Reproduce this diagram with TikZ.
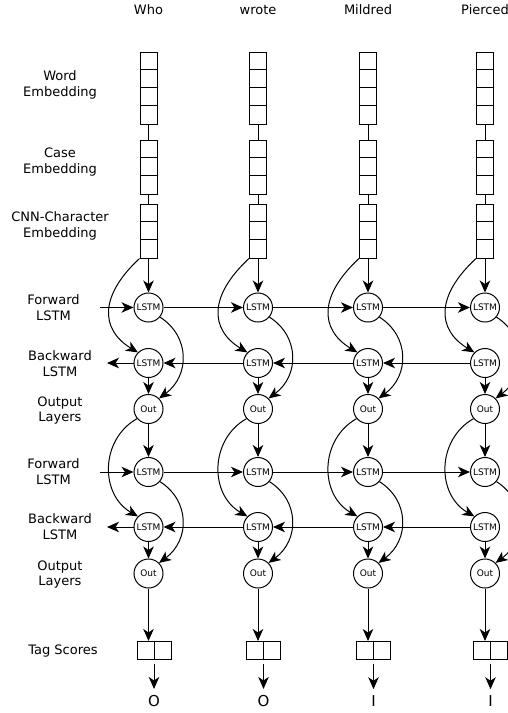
\documentclass[tikz,border=0pt]{standalone}
\usepackage{fontspec}
\setmainfont{DejaVu Sans}
\usetikzlibrary{arrows.meta}
\begin{document}
\begin{tikzpicture}[x=1pt,y=-1pt,
  line width=1pt,
  arr/.style={-{Stealth[length=12pt,width=10.5pt,inset=3.5pt]}},
  lab/.style={align=center,font=\fontsize{13}{15.5}\selectfont},
  cell/.style={draw,minimum width=17pt,inner sep=0pt},
  unit/.style={draw,circle,minimum size=29pt,inner sep=0pt,font=\fontsize{9}{10}\selectfont},
  outlab/.style={font=\fontsize{15}{17}\selectfont}]
\useasboundingbox (0,0) rectangle (508,713);
\clip (0,0) rectangle (508,713);
% left labels
\node[lab] (lw) at (60,85) {Word\\Embedding};
\node[lab] (lc) at (60,162) {Case\\Embedding};
\node[lab] (ln) at (60,226) {CNN-Character\\Embedding};
\node[lab] (lf1) at (53.5,307.5) {Forward\\LSTM};
\node[lab] (lb1) at (60,363.5) {Backward\\LSTM};
\node[lab] (lo1) at (60,410.5) {Output\\Layers};
\node[lab] (lf2) at (53.5,471.5) {Forward\\LSTM};
\node[lab] (lb2) at (60,526.5) {Backward\\LSTM};
\node[lab] (lo2) at (60,574.5) {Output\\Layers};
\node[lab] (lt) at (63,651) {Tag Scores};
\coordinate (fin1) at (100,307.5);
\coordinate (fin2) at (100,472);
\coordinate (bout1) at (107,363);
\coordinate (bout2) at (107,527);
\foreach \i/\x/\w/\t in {1/148.5/Who/O,2/258/wrote/O,3/368/Mildred/I,4/485/Pierced/I}{
  \node[lab] (word\i) at (\x,10) {\w};
  % embeddings
  \node[cell,minimum height=72pt] (we\i) at (\x,88) {};
  \foreach \k in {1,2,3} \draw ([yshift=-18*\k pt]we\i.north west) -- ([yshift=-18*\k pt]we\i.north east);
  \node[cell,minimum height=54pt] (ce\i) at (\x,167) {};
  \foreach \k in {1,2} \draw ([yshift=-18*\k pt]ce\i.north west) -- ([yshift=-18*\k pt]ce\i.north east);
  \node[cell,minimum height=54pt] (ne\i) at (\x,231) {};
  \foreach \k in {1,2} \draw ([yshift=-18*\k pt]ne\i.north west) -- ([yshift=-18*\k pt]ne\i.north east);
  \draw (we\i.south) -- (ce\i.north);
  \draw (ce\i.south) -- (ne\i.north);
  % units
  \node[unit] (f1\i) at (\x,307.5) {LSTM};
  \node[unit] (b1\i) at (\x,363) {LSTM};
  \node[unit] (o1\i) at (\x,409) {Out};
  \node[unit] (f2\i) at (\x,472) {LSTM};
  \node[unit] (b2\i) at (\x,527) {LSTM};
  \node[unit] (o2\i) at (\x,573.5) {Out};
  % tag scores
  \node[draw,minimum width=34pt,minimum height=18pt,inner sep=0pt] (ts\i) at (\x+5.5,650) {};
  \draw (ts\i.north) -- (ts\i.south);
  \coordinate (tin\i) at (\x,641);
  \node[outlab] (tag\i) at (\x+5.5,701.5) {\t};
  % vertical arrows
  \draw[arr] (ne\i.south) -- (f1\i.north);
  \draw[arr] (b1\i.south) -- (o1\i.north);
  \draw[arr] (o1\i.south) -- (f2\i.north);
  \draw[arr] (b2\i.south) -- (o2\i.north);
  \draw[arr] (o2\i.south) -- (tin\i);
  \draw[arr,shorten <=4pt] (ts\i.south) -- ([yshift=3pt]tag\i.north);
  % curves
  \draw[arr] (ne\i.south west) .. controls +(-40,37) and +(-38,-23) .. (b1\i.135);
  \draw[arr] (f1\i.-40) .. controls +(30,19) and +(31,-23) .. (o1\i.45);
  \draw[arr] (o1\i.220) .. controls +(-37,21) and +(-38,-22) .. (b2\i.135);
  \draw[arr] (f2\i.-40) .. controls +(30,19) and +(31,-23) .. (o2\i.45);
}
\draw[arr] (fin1) -- (f11.west);
\draw[arr] (fin2) -- (f21.west);
\draw[arr] (b11.west) -- (bout1);
\draw[arr] (b21.west) -- (bout2);
\foreach \a/\b in {1/2,2/3,3/4}{
  \draw[arr] (f1\a.east) -- (f1\b.west);
  \draw[arr] (f2\a.east) -- (f2\b.west);
  \draw[arr] (b1\b.west) -- (b1\a.east);
  \draw[arr] (b2\b.west) -- (b2\a.east);
}
\end{tikzpicture}
\end{document}
